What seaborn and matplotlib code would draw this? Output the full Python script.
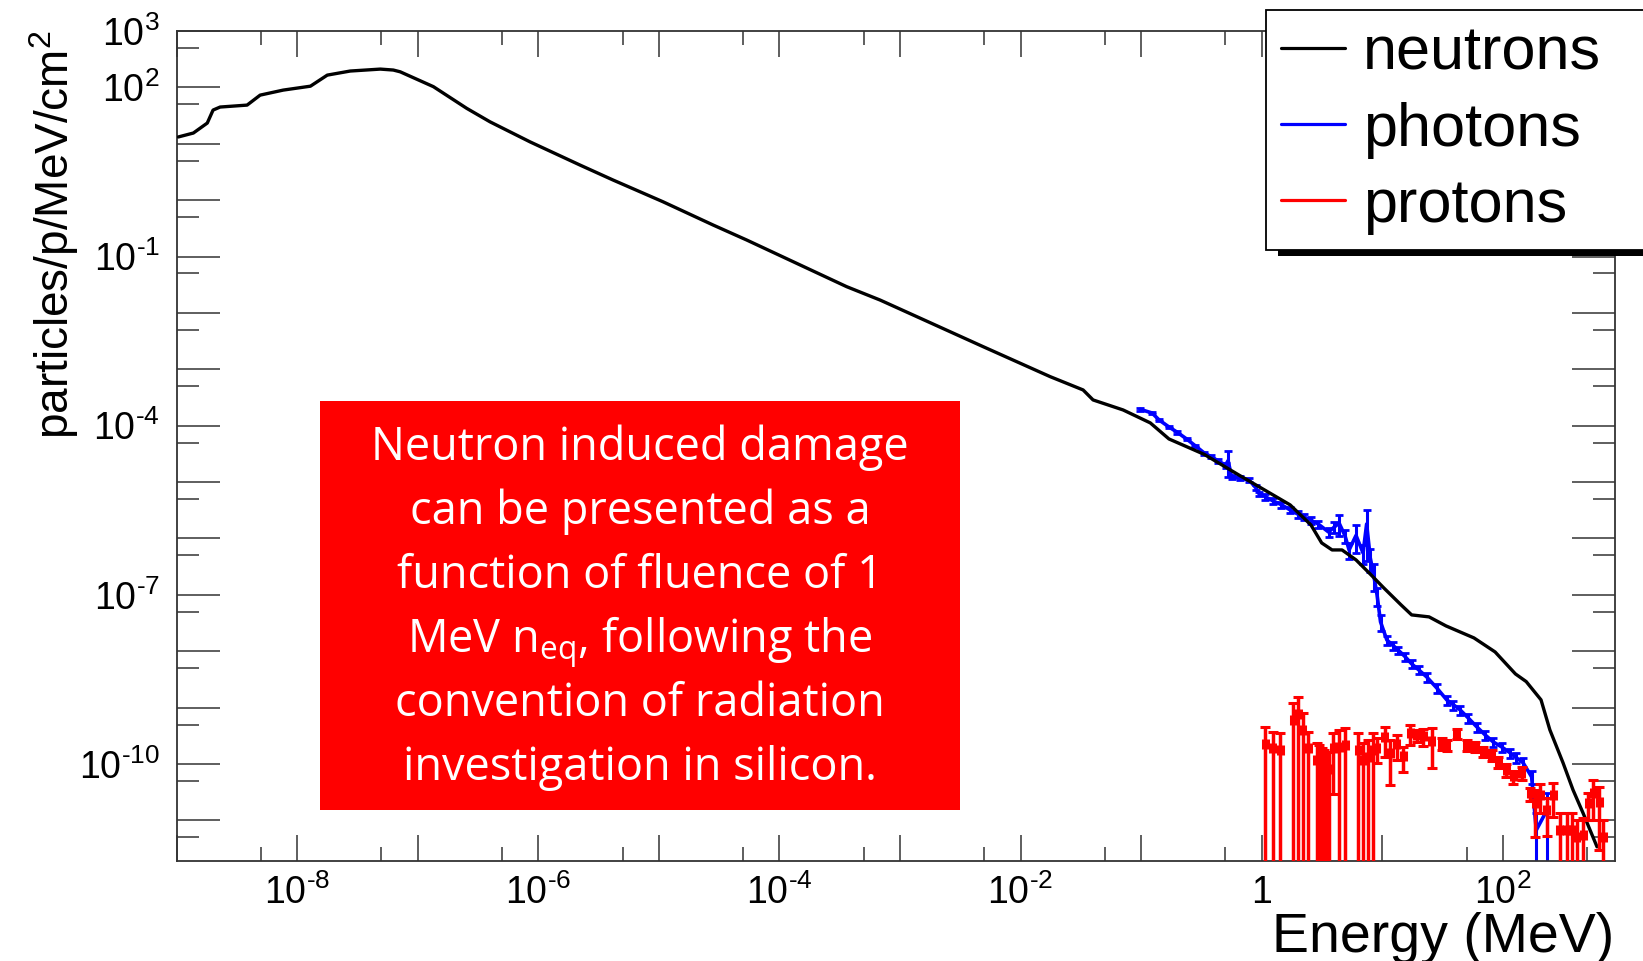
import numpy as np
import pandas as pd
import matplotlib
matplotlib.use("Agg")
import matplotlib.pyplot as plt
import seaborn as sns
from matplotlib.ticker import LogLocator, FuncFormatter
from matplotlib.lines import Line2D
from matplotlib.patches import Rectangle

# ---------------------------------------------------------------------------
# Spectra (particles/p/MeV/cm^2 versus energy in MeV)
# ---------------------------------------------------------------------------
series_names = ["neutrons", "photons", "protons"]

neutron_energy = [1.035e-9, 1.38e-9, 1.80e-9, 2.01e-9, 2.30e-9, 3.85e-9, 4.94e-9, 7.67e-9,
                  1.29e-8, 1.78e-8, 2.76e-8, 4.90e-8, 6.28e-8, 7.16e-8, 1.35e-7, 2.55e-7,
                  3.98e-7, 8.55e-7, 2.22e-6, 4.18e-6, 1.08e-5, 2.82e-5, 5.36e-5, 1.39e-4,
                  3.61e-4, 6.84e-4, 1.38e-3, 4.89e-3, 1.76e-2, 3.30e-2, 3.99e-2, 7.08e-2,
                  0.119, 0.170, 0.333, 0.643, 1.09, 1.72, 2.56, 3.14, 3.83, 4.63, 6.05, 7.91,
                  10.3, 14.3, 17.5, 24.4, 33.7, 57.5, 86.1, 127, 156, 207, 245, 315, 381,
                  461, 527, 603]
neutron_flux = [13.2, 15.5, 23.3, 39.6, 44.8, 48.5, 72.9, 89.5, 105, 165, 195, 211, 203, 189,
                103, 42.5, 24.5, 10.8, 4.19, 2.27, 0.938, 0.362, 0.196, 7.57e-2, 2.92e-2,
                1.69e-2, 8.57e-3, 2.52e-3, 7.40e-4, 4.30e-4, 2.86e-4, 1.90e-4, 1.12e-4,
                5.81e-5, 3.10e-5, 1.34e-5, 6.95e-6, 3.93e-6, 1.73e-6, 8.32e-7, 6.25e-7,
                6.25e-7, 4.16e-7, 2.35e-7, 1.32e-7, 6.62e-8, 4.40e-8, 4.06e-8, 2.81e-8,
                1.72e-8, 9.70e-9, 3.95e-9, 2.89e-9, 1.37e-9, 4.03e-10, 1.05e-10, 3.48e-11,
                1.36e-11, 6.79e-12, 3.39e-12]

photon_energy = [0.098, 0.123, 0.141, 0.170, 0.200, 0.238, 0.282, 0.333, 0.380, 0.435, 0.501,
                 0.526, 0.562, 0.661, 0.785, 0.891, 0.951, 1.07, 1.24, 1.45, 1.72, 2.00, 2.24,
                 2.57, 2.93, 3.58, 3.98, 4.38, 4.90, 5.30, 6.05, 6.92, 7.41, 7.94, 8.45, 9.04,
                 9.66, 10.9, 12.3, 13.5, 15.5, 17.5, 20.0, 23.3, 28.2, 34.2, 38.9, 44.1, 51.3,
                 60.7, 70.8, 82.8, 97.7, 115, 129, 147, 173, 189, 231]
photon_flux = [1.95e-4, 1.68e-4, 1.26e-4, 9.48e-5, 7.59e-5, 5.81e-5, 4.37e-5, 3.28e-5, 2.82e-5,
               2.37e-5, 2.0e-5, 2.4e-5, 1.23e-5, 1.17e-5, 1.09e-5, 7.94e-6, 6.15e-6, 5.5e-6,
               4.62e-6, 3.98e-6, 3.2e-6, 2.69e-6, 2.40e-6, 2.09e-6, 1.81e-6, 1.30e-6, 1.58e-6,
               1.87e-6, 1.12e-6, 6.25e-7, 1.13e-6, 5.53e-7, 1.8e-6, 4.5e-7, 2.35e-7, 9.95e-8,
               3.31e-8, 1.58e-8, 1.26e-8, 1.05e-8, 7.94e-9, 5.96e-9, 4.68e-9, 3.50e-9, 2.24e-9,
               1.37e-9, 1.12e-9, 9.12e-10, 6.61e-10, 4.55e-10, 3.31e-10, 2.47e-10, 2.0e-10,
               1.57e-10, 1.29e-10, 1.05e-10, 5.9e-11, 6.7e-12, 1.5e-11]
photon_err = [1.0e-5, 0.8e-5, 0.6e-5, 0.5e-5, 0.4e-5, 0.3e-5, 0.25e-5, 0.2e-5, 0.2e-5, 0.2e-5,
              0.2e-5, 1.17e-5, 0.1e-5, 0.1e-5, 0.1e-5, 0.8e-6, 0.6e-6, 0.6e-6, 0.5e-6, 0.45e-6,
              0.4e-6, 0.35e-6, 0.3e-6, 0.3e-6, 0.25e-6, 0.25e-6, 0.35e-6, 0.75e-6, 0.3e-6,
              0.2e-6, 0.57e-6, 0.2e-6, 1.4e-6, 2.0e-7, 1.2e-7, 3.5e-8, 1.0e-8, 3.0e-9, 2.0e-9,
              1.6e-9, 1.3e-9, 1.0e-9, 0.8e-9, 0.6e-9, 0.4e-9, 0.25e-9, 0.2e-9, 1.6e-10,
              1.2e-10, 0.8e-10, 0.6e-10, 0.45e-10, 0.38e-10, 0.3e-10, 0.25e-10, 0.22e-10,
              1.5e-11, 6.7e-12, 1.5e-11]

proton_energy = [1.07, 1.23, 1.42, 1.83, 2.01, 2.19, 2.43, 2.86, 3.00, 3.15, 3.30, 3.46, 3.63,
                 3.93, 4.37, 4.91, 6.32, 6.95, 7.66, 8.41, 8.97, 10.5, 11.6, 13.2, 14.9, 17.0,
                 19.3, 21.9, 25.7, 31.1, 34.2, 41.4, 50.1, 58.7, 68.9, 80.7, 91.6, 107, 122,
                 143, 168, 185, 203, 231, 262, 297, 338, 372, 409, 465, 511, 562, 631, 681]
proton_flux = [2.3e-10, 1.88e-10, 1.75e-10, 6.1e-10, 7.8e-10, 4.0e-10, 1.88e-10, 1.17e-10,
               1.1e-10, 9.5e-11, 9.0e-11, 8.3e-11, 8.0e-11, 1.9e-10, 2.0e-10, 2.15e-10,
               1.75e-10, 1.17e-10, 1.34e-10, 1.75e-10, 1.95e-10, 2.97e-10, 1.55e-10, 2.23e-10,
               1.38e-10, 3.56e-10, 3.26e-10, 3.1e-10, 2.57e-10, 2.3e-10, 2.18e-10, 3.5e-10,
               2.18e-10, 2.04e-10, 1.66e-10, 1.45e-10, 1.1e-10, 7.9e-11, 6.0e-11, 6.9e-11,
               3.0e-11, 2.0e-11, 2.84e-11, 1.53e-11, 2.84e-11, 6.7e-12, 6.7e-12, 6.7e-12,
               5.1e-12, 5.5e-12, 2.0e-11, 3.1e-11, 2.1e-11, 5.0e-12]
proton_err = [2.3e-10, 1.88e-10, 1.75e-10, 6.1e-10, 7.8e-10, 4.0e-10, 1.88e-10, 1.17e-10,
              1.1e-10, 9.5e-11, 9.0e-11, 8.3e-11, 8.0e-11, 1.61e-10, 2.0e-10, 2.15e-10,
              1.75e-10, 1.17e-10, 1.34e-10, 1.75e-10, 0.92e-10, 1.62e-10, 1.12e-10, 1.05e-10,
              0.65e-10, 1.37e-10, 0.77e-10, 1.0e-10, 1.73e-10, 0.55e-10, 0.45e-10, 0.7e-10,
              0.45e-10, 0.4e-10, 0.35e-10, 0.3e-10, 0.25e-10, 2.0e-11, 1.5e-11, 1.8e-11,
              0.8e-11, 1.5e-11, 1.5e-11, 1.0e-11, 1.7e-11, 6.7e-12, 6.7e-12, 6.7e-12,
              5.1e-12, 5.5e-12, 1.0e-11, 2.1e-11, 1.8e-11, 5.0e-12]

x_label = "Energy (MeV)"
y_label = r"particles/p/MeV/cm$^{\mathrm{2}}$"
note_lines = ["Neutron induced damage",
              "can be presented as a",
              "function of fluence of 1",
              r"MeV n$_{\mathsf{eq}}$, following the",
              "convention of radiation",
              "investigation in silicon."]

# ---------------------------------------------------------------------------
sns.set_theme(style="ticks")
plt.rcParams.update({
    "font.family": ["Liberation Sans", "DejaVu Sans"],
    "mathtext.fontset": "custom",
    "mathtext.rm": "Liberation Sans",
    "mathtext.it": "Liberation Sans:italic",
    "mathtext.bf": "Liberation Sans:bold",
    "mathtext.sf": "Open Sans",
    "text.color": "black",
    "xtick.color": "black",
    "ytick.color": "black",
    "axes.labelcolor": "black",
})

W, H = 1643, 961
fig = plt.figure(figsize=(W / 100, H / 100), dpi=100)
fig.patch.set_facecolor("white")
L, R, T, B = 176.5, 1615, 31, 861
ax = fig.add_axes([L / W, 1 - B / H, (R - L) / W, (B - T) / H])
ax.set_facecolor("white")
ax.set_xscale("log")
ax.set_yscale("log", nonpositive="clip")

neutrons = pd.DataFrame({"energy": neutron_energy, "flux": neutron_flux})
photons = pd.DataFrame({"energy": photon_energy, "flux": photon_flux, "err": photon_err})
protons = pd.DataFrame({"energy": proton_energy, "flux": proton_flux, "err": proton_err})

sns.lineplot(data=neutrons, x="energy", y="flux", color="black", lw=2.4,
             errorbar=None, ax=ax, zorder=3)
sns.lineplot(data=photons, x="energy", y="flux", color="#0000ff", lw=2.6,
             errorbar=None, ax=ax, zorder=2)
ax.errorbar(photons["energy"], photons["flux"], yerr=photons["err"], fmt="none",
            ecolor="#0000ff", elinewidth=2.2, capsize=2.8, capthick=2.0, zorder=2)

half_bin = 10 ** 0.021
ax.errorbar(protons["energy"], protons["flux"], yerr=protons["err"],
            xerr=[protons["energy"] * (1 - 1 / half_bin), protons["energy"] * (half_bin - 1)],
            fmt="none", ecolor="#ff0000", elinewidth=2.5, capsize=3.5, capthick=2.2, zorder=4)

ax.set_xlim(1e-9, 850)
ax.set_ylim(1.9e-12, 1e3)
ax.set_xlabel("")
ax.set_ylabel("")

ax.xaxis.set_major_locator(LogLocator(base=10, numticks=40))
ax.xaxis.set_minor_locator(LogLocator(base=10, subs=[5.0], numticks=40))
ax.yaxis.set_major_locator(LogLocator(base=10, numticks=40))
ax.yaxis.set_minor_locator(LogLocator(base=10, subs=[5.0], numticks=40))


def power_label(e):
    if e < 0:
        return r"$\mathrm{10^{\text{-}%d}}$" % (-e)
    return r"$\mathrm{10^{%d}}$" % e


def x_fmt(v, pos):
    e = int(round(np.log10(v)))
    if e % 2:
        return ""
    if e == 0:
        return "1"
    return power_label(e)


def y_fmt(v, pos):
    e = int(round(np.log10(v)))
    if e == 3 or (e - 2) % 3 == 0:
        return power_label(e)
    return ""


ax.xaxis.set_major_formatter(FuncFormatter(x_fmt))
ax.yaxis.set_major_formatter(FuncFormatter(y_fmt))

axis_color = "#333333"
ax.tick_params(axis="x", which="major", direction="in", length=18.7, width=1.1,
               top=True, bottom=True, labelsize=27, pad=10, color=axis_color,
               labelcolor="black")
ax.tick_params(axis="x", which="minor", direction="in", length=10, width=1.1,
               top=True, bottom=True, color=axis_color)
ax.tick_params(axis="y", which="major", direction="in", length=31, width=1.1,
               left=True, right=True, labelsize=27, pad=12, color=axis_color,
               labelcolor="black")
ax.tick_params(axis="y", which="minor", direction="in", length=16, width=1.1,
               left=True, right=True, color=axis_color)
for s in ax.spines.values():
    s.set_visible(True)
    s.set_linewidth(1.3)
    s.set_color(axis_color)

fig.text(1614 / W, 1 - 952 / H, x_label, ha="right", va="baseline", fontsize=40,
         color="black")
fig.text(54 / W, 1 - 30 / H, y_label, rotation=90, ha="center", va="top", fontsize=33,
         color="black")

# annotation box
fig.add_artist(Rectangle((320 / W, 1 - 810 / H), 640 / W, 409 / H, transform=fig.transFigure,
                         facecolor="#ff0000", edgecolor="none", zorder=6))
baselines = [459.5, 524, 588, 653, 716, 780]
for line, yb in zip(note_lines, baselines):
    fig.text(640 / W, 1 - yb / H, line, ha="center", va="baseline", color="white",
             fontsize=32.5, family="Open Sans", zorder=7)

# legend with drop shadow
handles = [Line2D([], [], color=c, lw=2.3) for c in ("black", "#0000ff", "#ff0000")]
leg = fig.legend(handles, series_names, loc="upper left",
                 bbox_to_anchor=(1266 / W, 1 - 246 / H, 420 / W, 235.5 / H),
                 bbox_transform=fig.transFigure, mode="expand", fontsize=44,
                 frameon=True, fancybox=False, edgecolor="black", facecolor="white",
                 framealpha=1, borderpad=0.25, labelspacing=0.31, handlelength=1.05,
                 handletextpad=0.28, borderaxespad=0, labelcolor="black")
leg.get_frame().set_linewidth(1.3)
leg.set_zorder(10)

# place the shadow bar directly beneath the drawn legend frame
fig.canvas.draw()
frame_box = leg.get_frame().get_window_extent()
shadow_h = 6
fig.add_artist(Rectangle(((frame_box.x0 + 12) / W, (frame_box.y0 - shadow_h) / H),
                         (W - frame_box.x0 - 12) / W, shadow_h / H,
                         transform=fig.transFigure, facecolor="black", edgecolor="none",
                         zorder=9))

fig.savefig("out.png", dpi=100, facecolor="white")
